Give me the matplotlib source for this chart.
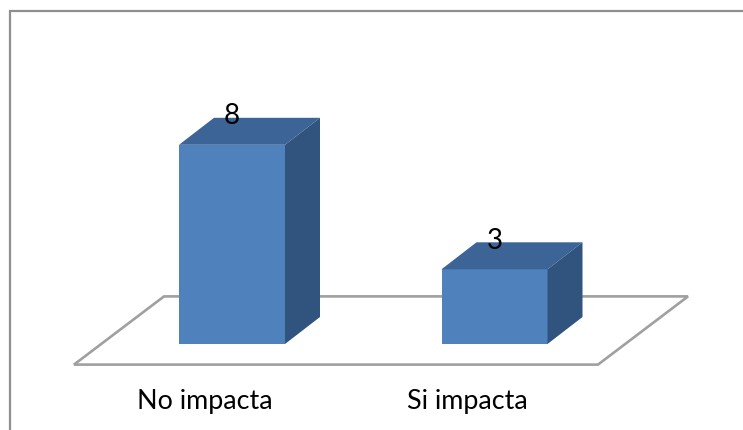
import matplotlib
matplotlib.use("Agg")
import matplotlib.pyplot as plt
from matplotlib.patches import Polygon
from matplotlib.lines import Line2D

categories = ["No impacta", "Si impacta"]
values = [8, 3]

WIDTH, HEIGHT = 743, 431
FRONT = "#4f81bd"
TOP = "#3c6496"
SIDE = "#31547f"
LINE = "#a0a0a0"

# pixel layout of the value scale
x0, x_step = 232.0, 262.5
y0, y_unit = 345.0, 24.9
half_w = 53.0 / x_step
depth_x = 35.0 / x_step
depth_y = 27.0 / y_unit


def drawFloor(ax):
    left = (74.0 - x0) / x_step
    right = (598.0 - x0) / x_step
    front = (y0 - 365.6) / y_unit
    back = (y0 - 297.4) / y_unit
    shift = 90.0 / x_step
    pts = [(left, front), (right, front), (right + shift, back), (left + shift, back)]
    ax.add_patch(Polygon(pts, closed=True, fill=False, edgecolor=LINE, linewidth=1.9, zorder=1))


def drawBar(ax, x, v):
    l, r = x - half_w, x + half_w
    ax.add_patch(Polygon([(l, 0), (r, 0), (r, v), (l, v)], facecolor=FRONT, edgecolor="none", zorder=3))
    ax.add_patch(Polygon([(l, v), (r, v), (r + depth_x, v + depth_y), (l + depth_x, v + depth_y)],
                         facecolor=TOP, edgecolor="none", zorder=3))
    ax.add_patch(Polygon([(r, 0), (r + depth_x, depth_y), (r + depth_x, v + depth_y), (r, v)],
                         facecolor=SIDE, edgecolor="none", zorder=3))
    ax.text(x, v + depth_y + 0.1, str(v), ha="center", va="center", fontsize=20, color="black", zorder=4)


plt.rcParams["font.family"] = ["Lato", "DejaVu Sans"]
fig = plt.figure(figsize=(WIDTH / 100, HEIGHT / 100), dpi=100)
ax = fig.add_axes([0, 0, 1, 1])
ax.set_xlim(-x0 / x_step, (WIDTH - x0) / x_step)
ax.set_ylim((y0 - HEIGHT) / y_unit, y0 / y_unit)
ax.axis("off")

# chart frame: left and top edges only, both run off the canvas
fx = [9.5 / WIDTH, 9.5 / WIDTH, 1]
fy = [0, 1 - 12.0 / HEIGHT, 1 - 12.0 / HEIGHT]
fig.add_artist(Line2D(fx, fy, color="#8f8f8f", linewidth=1.6, solid_joinstyle="miter"))

drawFloor(ax)
for i, v in enumerate(values):
    drawBar(ax, i, v)
    ax.text(i - 0.103, (y0 - 402.0) / y_unit, categories[i], ha="center", va="center", fontsize=19.4, color="black")

fig.savefig("out.png", dpi=100)
